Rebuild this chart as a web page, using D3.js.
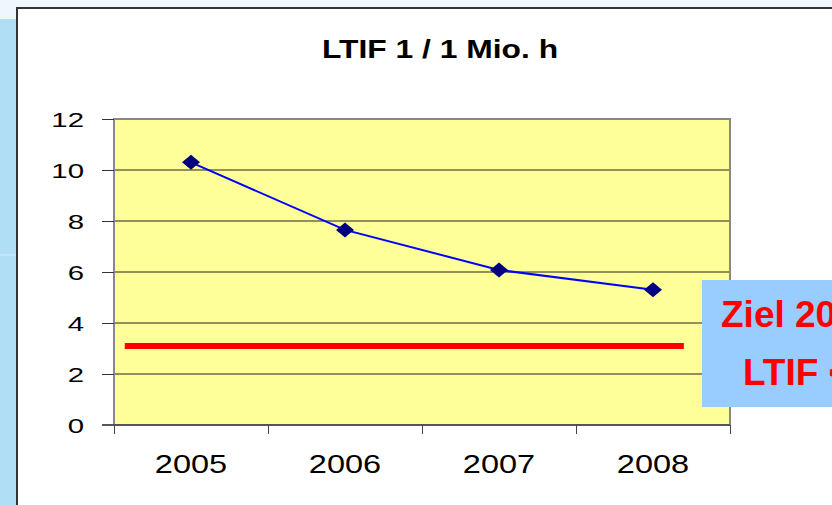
<!DOCTYPE html>
<html>
<head>
<meta charset="utf-8">
<script src="https://cdn.jsdelivr.net/npm/d3@7"></script>
<style>
  html, body { margin: 0; padding: 0; background: #eef7fc; }
  svg { display: block; font-family: "Liberation Sans", Arial, Helvetica, sans-serif; }
</style>
</head>
<body>
<svg id="chart" width="832" height="505"></svg>
<script>
var years = ['2005', '2006', '2007', '2008'];
var ltif = [10.3, 7.65, 6.08, 5.3];
var yTicks = [0, 2, 4, 6, 8, 10, 12];
var target = 3.1;
var chartTitle = 'LTIF 1 / 1 Mio. h';
var noteLines = ['Ziel 2009', 'LTIF < 3'];

var svg = d3.select('#chart');

// page background pieces
svg.append('rect').attr('x', 0).attr('y', 0).attr('width', 832).attr('height', 505).attr('fill', '#eef7fc');
svg.append('rect').attr('x', 0).attr('y', 19).attr('width', 17).attr('height', 486).attr('fill', '#b0dff5');
svg.append('line').attr('x1', 0).attr('x2', 17).attr('y1', 255).attr('y2', 255)
    .attr('stroke', '#d0ecf9').attr('stroke-width', 1);

// chart frame
svg.append('rect').attr('x', 17).attr('y', 8).attr('width', 830).attr('height', 510)
    .attr('fill', '#fff').attr('stroke', '#333').attr('stroke-width', 2);

var plot = {left: 114, top: 119, right: 730, bottom: 425};

var y = d3.scaleLinear().domain([0, 12]).range([plot.bottom, plot.top]);
var x = d3.scaleBand().domain(years).range([plot.left, plot.right]).padding(0);
var xi = d3.scaleLinear().domain([0, years.length]).range([plot.left, plot.right]);

svg.append('rect')
    .attr('x', plot.left).attr('y', plot.top)
    .attr('width', plot.right - plot.left).attr('height', plot.bottom - plot.top)
    .attr('fill', '#ffff99');

// gridlines
svg.append('g').selectAll('line').data(yTicks.filter(function(d){ return d > 0 && d < 12; }))
    .enter().append('line')
    .attr('x1', plot.left).attr('x2', plot.right)
    .attr('y1', function(d){ return y(d); }).attr('y2', function(d){ return y(d); })
    .attr('stroke', '#222').attr('stroke-width', 1);

// plot borders
svg.append('path')
    .attr('d', 'M' + plot.left + ',' + plot.bottom + 'V' + plot.top + 'H' + plot.right + 'V' + plot.bottom)
    .attr('fill', 'none').attr('stroke', '#888').attr('stroke-width', 2);

// y axis
var yAxis = svg.append('g').attr('transform', 'translate(' + plot.left + ',0)')
    .call(d3.axisLeft(y).tickValues(yTicks).tickSize(12).tickSizeOuter(0).tickFormat(d3.format('d')));
yAxis.select('.domain').remove();
yAxis.selectAll('.tick line').attr('stroke', '#333');
yAxis.selectAll('.tick text').remove();
yAxis.selectAll('.tick').append('text')
    .attr('transform', 'translate(-30,7.5) scale(1.4,1)')
    .attr('text-anchor', 'end')
    .attr('font-size', 21)
    .attr('fill', '#000')
    .text(function(d){ return d; });

// x axis
var xAxis = svg.append('g').attr('transform', 'translate(0,' + plot.bottom + ')')
    .call(d3.axisBottom(xi).tickValues(d3.range(years.length + 1)).tickSize(9).tickFormat(''));
xAxis.select('.domain').attr('stroke', '#555').attr('stroke-width', 2)
    .attr('d', 'M' + (plot.left - 12) + ',0H' + plot.right);
xAxis.selectAll('.tick line').attr('stroke', '#444');

svg.append('g').selectAll('text').data(years).enter().append('text')
    .attr('transform', function(d){ return 'translate(' + (x(d) + x.bandwidth() / 2) + ',473) scale(1.3,1)'; })
    .attr('text-anchor', 'middle')
    .attr('font-size', 25)
    .attr('fill', '#000')
    .text(function(d){ return d; });

// title
svg.append('text')
    .attr('transform', 'translate(440,58) scale(1.2,1)')
    .attr('text-anchor', 'middle')
    .attr('font-size', 26.5)
    .attr('font-weight', 'bold')
    .attr('fill', '#000')
    .text(chartTitle);

// series line
var line = d3.line()
    .x(function(d, i){ return x(years[i]) + x.bandwidth() / 2; })
    .y(function(d){ return y(d); });

svg.append('path').datum(ltif)
    .attr('d', line)
    .attr('fill', 'none').attr('stroke', '#0000ff').attr('stroke-width', 2);

svg.append('g').selectAll('path').data(ltif).enter().append('path')
    .attr('d', 'M0,-7.5L9,0L0,7.5L-9,0Z')
    .attr('transform', function(d, i){ return 'translate(' + (x(years[i]) + x.bandwidth() / 2) + ',' + y(d) + ')'; })
    .attr('fill', '#000080');

// target line
svg.append('line')
    .attr('x1', xi(0.07)).attr('x2', xi(3.7))
    .attr('y1', y(target)).attr('y2', y(target))
    .attr('stroke', '#ff0000').attr('stroke-width', 6);

// note box
svg.append('rect').attr('x', 702).attr('y', 280).attr('width', 140).attr('height', 127)
    .attr('fill', '#99ccff');
svg.append('text').attr('x', 721).attr('y', 327)
    .attr('font-size', 37).attr('font-weight', 'bold').attr('fill', '#ff0000')
    .text(noteLines[0]);
svg.append('text').attr('x', 743).attr('y', 385)
    .attr('font-size', 37).attr('font-weight', 'bold').attr('fill', '#ff0000')
    .text(noteLines[1]);
</script>
</body>
</html>
